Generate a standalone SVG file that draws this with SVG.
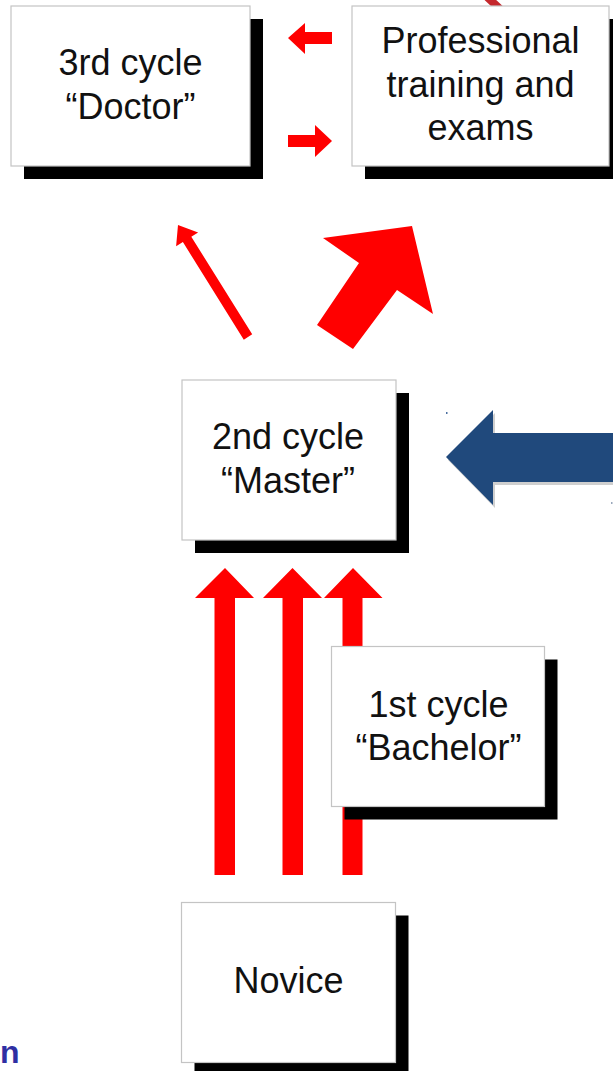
<svg xmlns="http://www.w3.org/2000/svg" width="613" height="1071" viewBox="0 0 613 1071">
  <defs>
    <style>
      .box { fill: #ffffff; stroke: #c4c4c4; stroke-width: 1.2; }
      .shadow { fill: #000000; }
      .label { font-family: "Liberation Sans", Arial, sans-serif; font-size: 36px; fill: #111111; text-anchor: middle; }
      .red { fill: #ff0000; }
    </style>
  </defs>
  <rect x="0" y="0" width="613" height="1071" fill="#ffffff"/>

  <!-- dark red stroke entering from above the professional box -->
  <path d="M484,-6 L501,10" stroke="#c5282d" stroke-width="8" fill="none"/>

  <!-- connectors -->
  <g id="connectors">
    <!-- between Doctor and Professional -->
    <polygon class="red" points="288,38 305,23 305,32 332,32 332,44 305,44 305,54"/>
    <polygon class="red" points="332,141 315,125 315,135 288,135 288,147 315,147 315,157"/>
    <!-- Master to Doctor (thin) -->
    <polygon class="red" points="243.8,339.7 252.2,334.3 191.3,236.7 198.1,232.5 178,225 176.1,246.3 182.9,242.1"/>
    <!-- Master to Professional (thick) -->
    <polygon class="red" points="317,325 359,263 323,238 412,226 433,314 397,290 353,349"/>
    <!-- Novice to Master -->
    <polygon class="red" points="214.5,875 214.5,598 195,598 225,568 254,598 235,598 235,875"/>
    <polygon class="red" points="282.5,875 282.5,598 263,598 292.5,568 322,598 303,598 303,875"/>
    <polygon class="red" points="342.5,875 342.5,598 324,598 353,568 382.5,598 362.5,598 362.5,875"/>
    <!-- incoming arrow to Master -->
    <polygon fill="#cfcfcf" points="448,460 495,413 495,436 613,436 613,485 495,485 495,508"/>
    <polygon fill="#20497c" points="446,457 493,410 493,433 613,433 613,482 493,482 493,505"/>
    <rect x="446" y="412" width="1.5" height="2" fill="#4a6fa0"/>
    <rect x="611" y="502" width="1.5" height="2" fill="#9aa8bc"/>
  </g>

  <g id="doctor">
    <rect class="shadow" x="24" y="19" width="239" height="160"/>
    <rect class="box" x="11" y="6" width="239" height="160"/>
    <text class="label" x="130.5" y="75">3rd cycle</text>
    <text class="label" x="130.5" y="119">“Doctor”</text>
  </g>

  <g id="professional">
    <rect class="shadow" x="365" y="19" width="257" height="160"/>
    <rect class="box" x="352" y="6" width="257" height="160"/>
    <text class="label" x="480.5" y="53">Professional</text>
    <text class="label" x="480.5" y="97">training and</text>
    <text class="label" x="480.5" y="140">exams</text>
  </g>

  <g id="master">
    <rect class="shadow" x="195" y="393" width="214" height="160"/>
    <rect class="box" x="182" y="380" width="214" height="160"/>
    <text class="label" x="288" y="449">2nd cycle</text>
    <text class="label" x="288" y="493">“Master”</text>
  </g>

  <g id="bachelor">
    <rect class="shadow" x="344.5" y="659.5" width="213" height="160"/>
    <rect class="box" x="331.5" y="646.5" width="213" height="160"/>
    <text class="label" x="438.5" y="717">1st cycle</text>
    <text class="label" x="438.5" y="760">“Bachelor”</text>
  </g>

  <g id="novice">
    <rect class="shadow" x="194.5" y="915.5" width="214" height="170"/>
    <rect class="box" x="181.5" y="902.5" width="214" height="160"/>
    <text class="label" x="288.5" y="993">Novice</text>
  </g>

  <text x="0" y="1063" font-family="Liberation Sans, Arial, sans-serif" font-size="32" font-weight="bold" fill="#2f2fa3">n</text>
</svg>
